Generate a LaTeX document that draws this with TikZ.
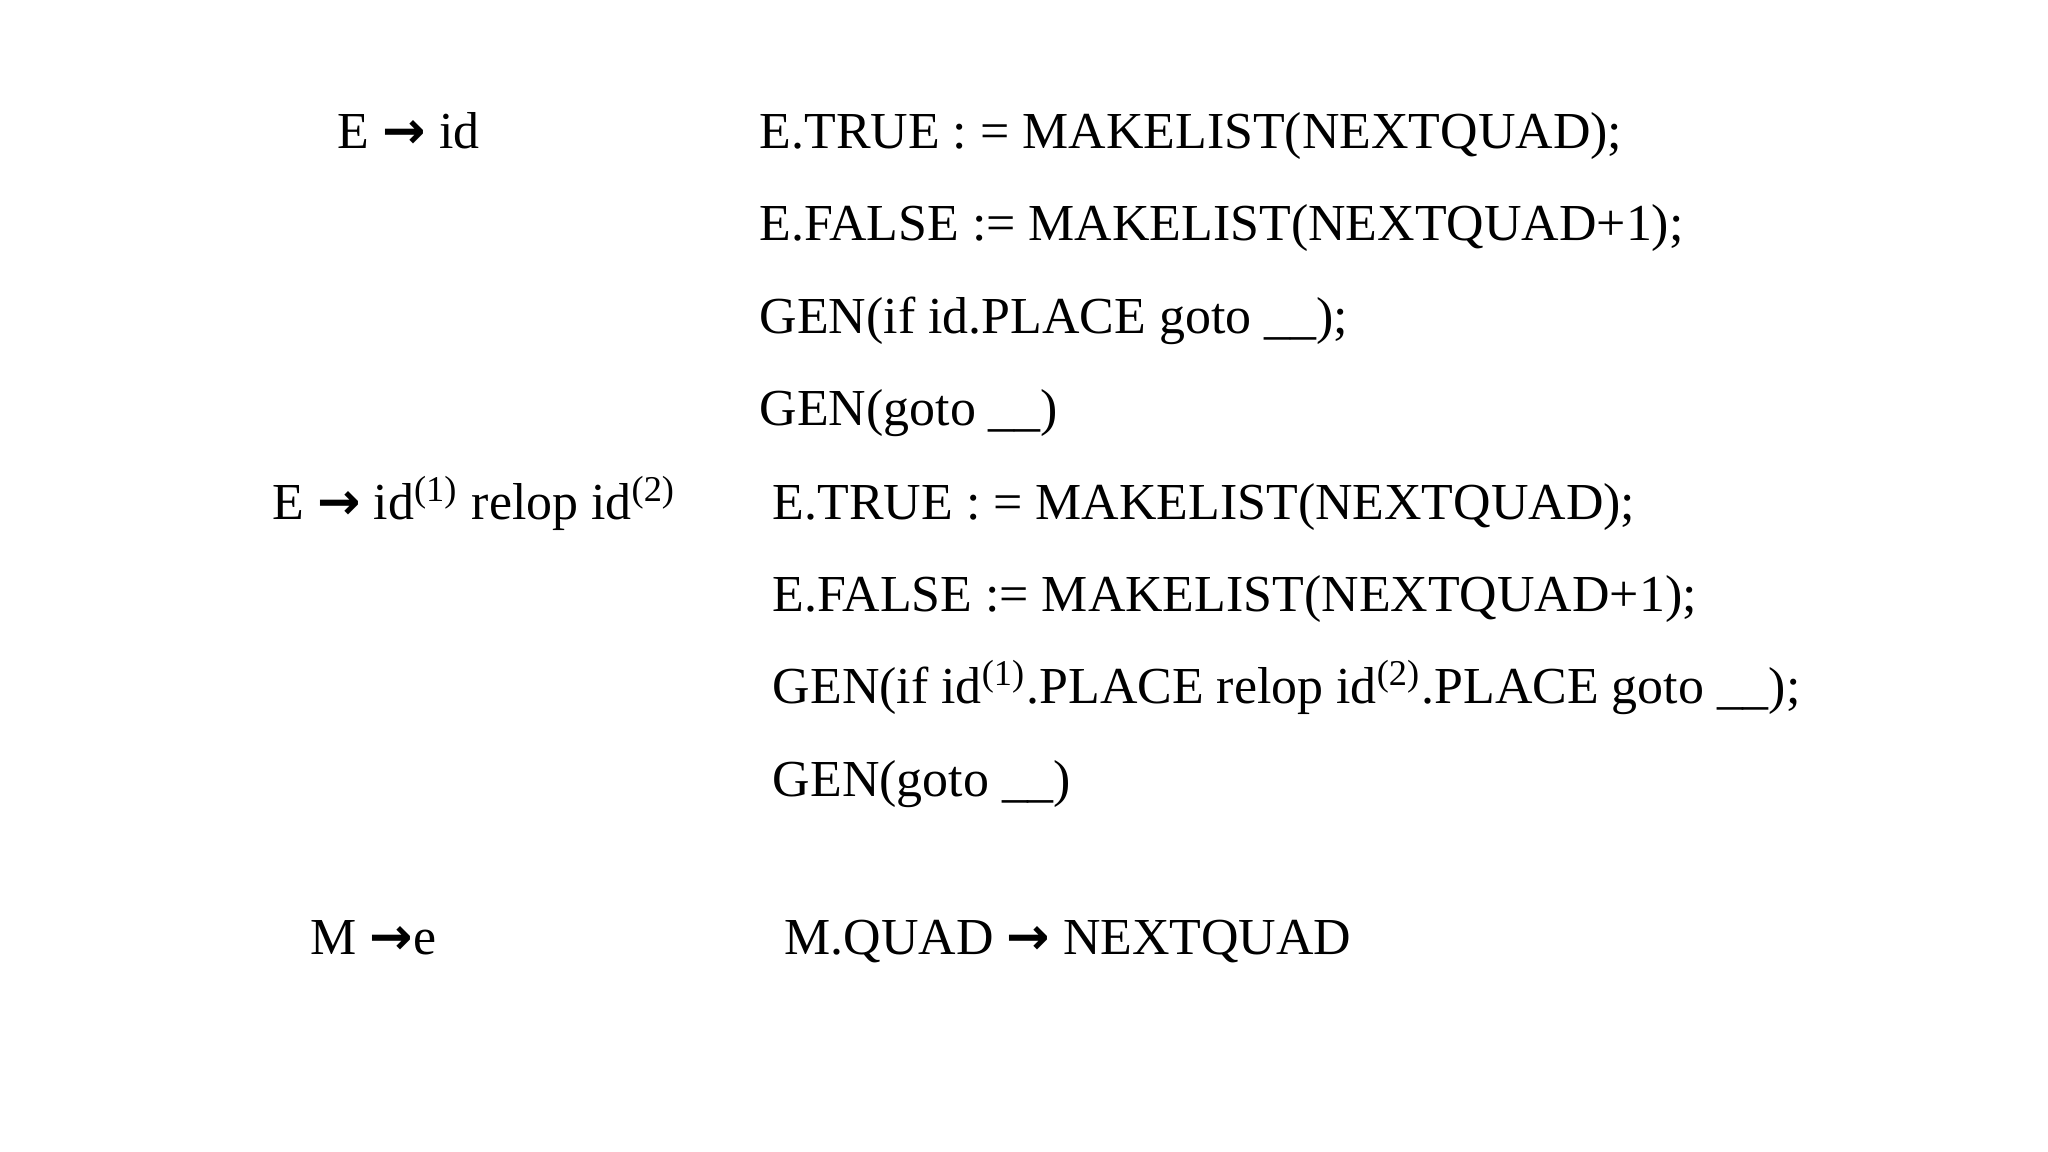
\documentclass[tikz,border=0pt]{standalone}
\usepackage{fontspec}
\setmainfont{Liberation Serif}
\newfontfamily\arr{DejaVu Sans}
\newcommand{\ar}{{\arr\bfseries →}}
\begin{document}
\begin{tikzpicture}[x=0.01cm,y=-0.01cm,t/.style={anchor=base west,inner sep=0pt,font=\fontsize{11.3pt}{13pt}\selectfont}]
\useasboundingbox (0,0) rectangle (1568,882);
\node[t] (a) at (258,114) {E \ar{} id};
\node[t] (a1) at (581,114) {E.TRUE : = MAKELIST(NEXTQUAD);};
\node[t] (a2) at (581,184) {E.FALSE := MAKELIST(NEXTQUAD+1);};
\node[t] (a3) at (581,255) {GEN(if id.PLACE goto \_\_);};
\node[t] (a4) at (581,326) {GEN(goto \_\_)};
\node[t] (b) at (208,398) {E \ar{} id\textsuperscript{(1)} relop id\textsuperscript{(2)}};
\node[t] (b1) at (591,398) {E.TRUE : = MAKELIST(NEXTQUAD);};
\node[t] (b2) at (591,468) {E.FALSE := MAKELIST(NEXTQUAD+1);};
\node[t] (b3) at (591,539) {GEN(if id\textsuperscript{(1)}.PLACE relop id\textsuperscript{(2)}.PLACE goto \_\_);};
\node[t] (b4) at (591,610) {GEN(goto \_\_)};
\node[t] (c) at (237,731) {M \ar{}e};
\node[t] (c1) at (600,731) {M.QUAD \ar{} NEXTQUAD};
\end{tikzpicture}
\end{document}
